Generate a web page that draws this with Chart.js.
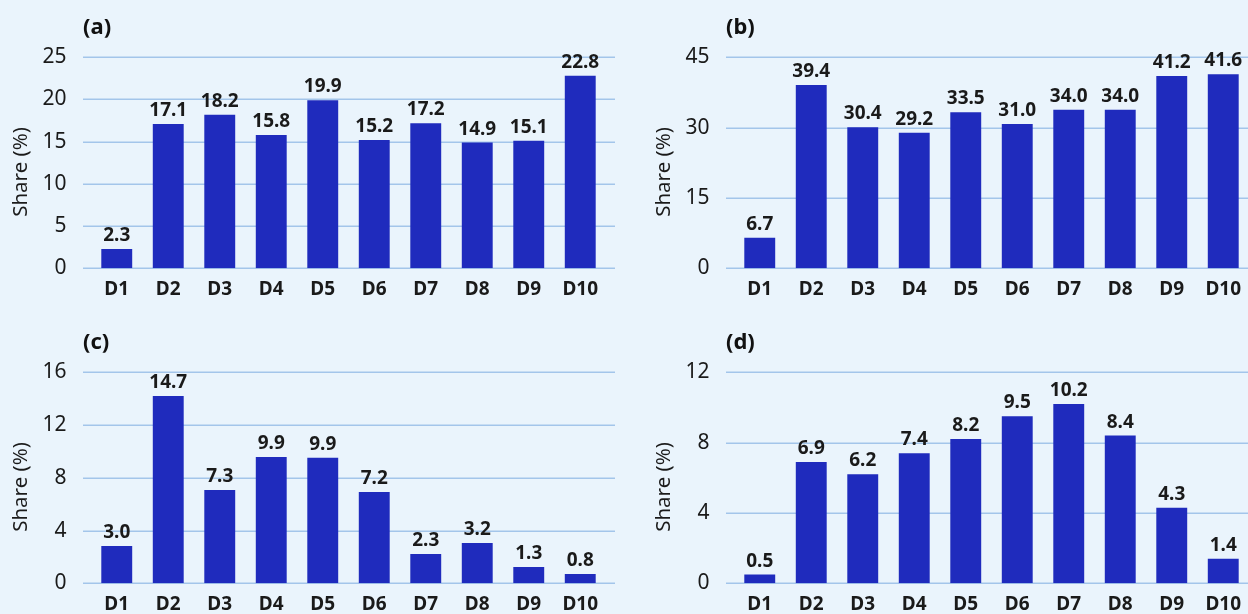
<!DOCTYPE html>
<html>
<head>
<meta charset="utf-8">
<script src="https://cdn.jsdelivr.net/npm/chart.js@4.4.1/dist/chart.umd.min.js"></script>
<style>
  html, body { margin:0; padding:0; width:1248px; height:614px; overflow:hidden; background:#eaf4fc; }
  .panel { position:absolute; width:643px; height:315px; }
  canvas { display:block; }
</style>
</head>
<body>
<div class="panel" style="left:0;top:0"><canvas id="ca" width="643" height="315"></canvas></div>
<div class="panel" style="left:643px;top:0"><canvas id="cb" width="643" height="315"></canvas></div>
<div class="panel" style="left:0;top:315px"><canvas id="cc" width="643" height="315"></canvas></div>
<div class="panel" style="left:643px;top:315px"><canvas id="cd" width="643" height="315"></canvas></div>
<script>
// ---- data ----
const categories = ['D1','D2','D3','D4','D5','D6','D7','D8','D9','D10'];

const valuesA = [2.3, 17.1, 18.2, 15.8, 19.9, 15.2, 17.2, 14.9, 15.1, 22.8];
const labelsA = ['2.3','17.1','18.2','15.8','19.9','15.2','17.2','14.9','15.1','22.8'];

const valuesB = [6.5, 39.1, 30.1, 28.9, 33.3, 30.8, 33.8, 33.8, 41.0, 41.4];
const labelsB = ['6.7','39.4','30.4','29.2','33.5','31.0','34.0','34.0','41.2','41.6'];

// bar heights as drawn in (c) (the printed labels are slightly larger)
const valuesC = [2.83, 14.2, 7.07, 9.58, 9.52, 6.92, 2.22, 3.05, 1.24, 0.71];
const labelsC = ['3.0','14.7','7.3','9.9','9.9','7.2','2.3','3.2','1.3','0.8'];

const valuesD = [0.5, 6.9, 6.2, 7.4, 8.2, 9.5, 10.2, 8.4, 4.3, 1.4];
const labelsD = ['0.5','6.9','6.2','7.4','8.2','9.5','10.2','8.4','4.3','1.4'];

const panelTitles = ['(a)','(b)','(c)','(d)'];
const yMaxes = [25, 45, 16, 12];
const ySteps = [5, 15, 4, 4];
const yTitle = 'Share (%)';

// ---- style ----
const BAR = '#1f2bbd';
const GRID = '#a3c5ea';
const TEXT = '#1a1a1a';
const FONT = '"Noto Sans", "Open Sans", sans-serif';

const panelPlugin = {
  id: 'panelDecor',
  beforeDatasetsDraw(chart) {
    const {ctx, chartArea} = chart;
    const y = chart.scales.y;
    ctx.save();
    ctx.strokeStyle = GRID;
    ctx.lineWidth = 1.5;
    y.ticks.forEach(t => {
      const py = Math.round(y.getPixelForValue(t.value)) + 0.25;
      ctx.beginPath();
      ctx.moveTo(chartArea.left - 8, py);
      ctx.lineTo(chartArea.right + 9, py);
      ctx.stroke();
    });
    ctx.restore();
  },
  afterDatasetsDraw(chart, args, opts) {
    const {ctx, chartArea} = chart;
    const meta = chart.getDatasetMeta(0);
    ctx.save();
    ctx.fillStyle = TEXT;
    ctx.font = 'bold 19px ' + FONT;
    ctx.textAlign = 'center';
    ctx.textBaseline = 'alphabetic';
    meta.data.forEach((bar, i) => {
      ctx.fillText(opts.labels[i], bar.x, bar.y - 8);
    });
    // panel title
    ctx.font = 'bold 22px ' + FONT;
    ctx.textAlign = 'left';
    ctx.textBaseline = 'middle';
    ctx.fillStyle = '#111';
    ctx.fillText(opts.title, chartArea.left - 8, 28);
    // y axis title
    ctx.font = '20.5px ' + FONT;
    ctx.fillStyle = TEXT;
    ctx.translate(21, 172);
    ctx.rotate(-Math.PI / 2);
    ctx.textAlign = 'center';
    ctx.textBaseline = 'middle';
    ctx.fillText(yTitle, 0, 0);
    ctx.restore();
  }
};

function makePanel(id, values, labels, idx) {
  return new Chart(document.getElementById(id), {
    type: 'bar',
    data: {
      labels: categories,
      datasets: [{
        data: values,
        backgroundColor: BAR,
        borderWidth: 0,
        barPercentage: 0.6,
        categoryPercentage: 1.0
      }]
    },
    options: {
      responsive: false,
      animation: false,
      devicePixelRatio: 1,
      layout: { padding: { left: 0, top: 57.3, right: 37, bottom: 0 } },
      plugins: {
        legend: { display: false },
        tooltip: { enabled: false },
        title: { display: false },
        panelDecor: { labels: labels, title: panelTitles[idx] }
      },
      scales: {
        x: {
          grid: { display: false, drawTicks: false },
          border: { display: false },
          ticks: {
            color: TEXT,
            padding: 10,
            font: { family: FONT, size: 19, weight: 'bold' },
            maxRotation: 0, autoSkip: false
          },
          afterFit(s) { s.height = 315 - 268.3; }
        },
        y: {
          min: 0,
          max: yMaxes[idx],
          grid: { display: false, drawTicks: false },
          border: { display: false },
          ticks: {
            stepSize: ySteps[idx],
            color: TEXT,
            padding: 24.5,
            font: { family: FONT, size: 21 }
          },
          afterFit(s) { s.width = 91; }
        }
      }
    },
    plugins: [panelPlugin]
  });
}

makePanel('ca', valuesA, labelsA, 0);
makePanel('cb', valuesB, labelsB, 1);
makePanel('cc', valuesC, labelsC, 2);
makePanel('cd', valuesD, labelsD, 3);
</script>
</body>
</html>
